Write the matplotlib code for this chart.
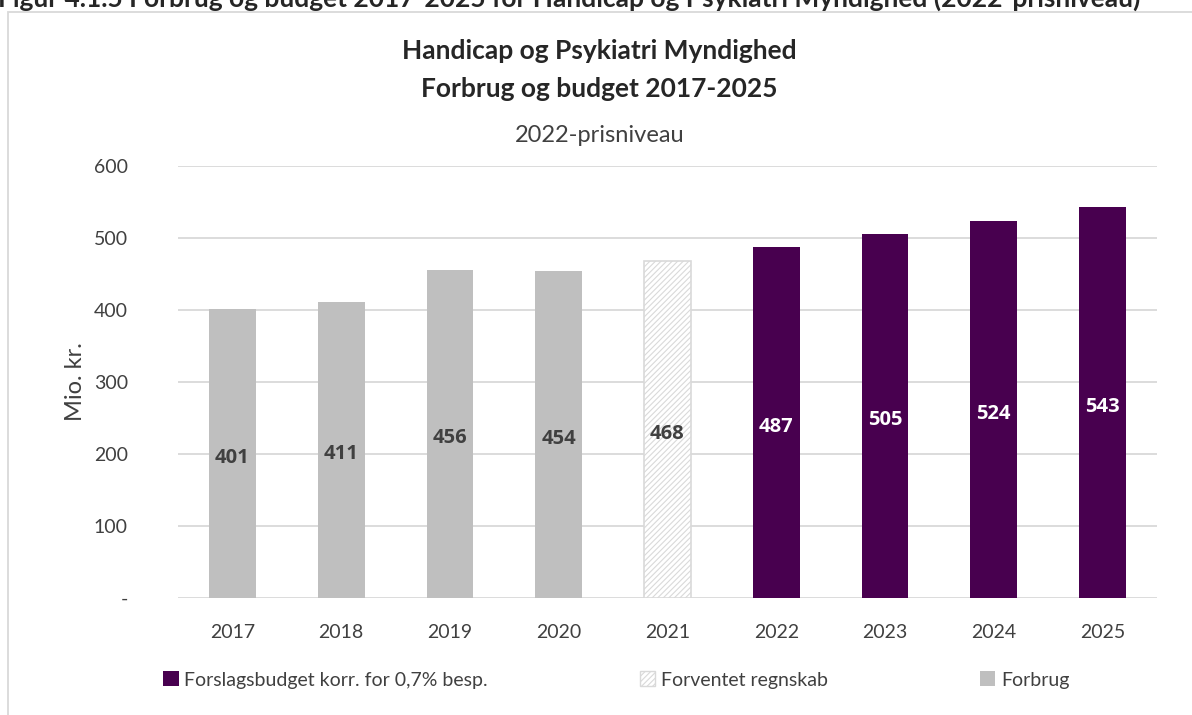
import matplotlib
matplotlib.use("Agg")
import matplotlib.pyplot as plt
from matplotlib.patches import Patch, Rectangle

years = ["2017", "2018", "2019", "2020", "2021", "2022", "2023", "2024", "2025"]
forbrug = [401, 411, 456, 454]
forventet = [468]
budget = [487, 505, 524, 543]
yticks = [0, 100, 200, 300, 400, 500, 600]
ytick_labels = ["-", "100", "200", "300", "400", "500", "600"]

purple = "#48004f"
gray = "#bfbfbf"
txt = "#404040"
plt.rcParams["font.family"] = ["Lato", "DejaVu Sans"]
plt.rcParams["hatch.color"] = "#d0d0d0"
plt.rcParams["hatch.linewidth"] = 0.8

fig = plt.figure(figsize=(11.92, 7.15), dpi=100)
ax = fig.add_axes([0.1493, 0.1636, 0.8213, 0.6042])

x = list(range(len(years)))
w = 0.43
b1 = ax.bar(x[:4], forbrug, w, color=gray, zorder=2)
b2 = ax.bar(x[4:5], forventet, w, color="white", edgecolor="#d9d9d9",
            hatch="//////", linewidth=1.2, zorder=2)
b3 = ax.bar(x[5:], budget, w, color=purple, zorder=2)

for bars, vals, c in [(b1, forbrug, txt), (b2, forventet, txt), (b3, budget, "white")]:
    for r, v in zip(bars, vals):
        ax.annotate(str(v), (r.get_x() + r.get_width() / 2, v / 2), xytext=(0, -3),
                    textcoords="offset points", ha="center", va="center",
                    fontsize=14.5, fontweight="bold", color=c, family="Open Sans")

ax.set_xlim(-0.5, 8.5)
ax.set_ylim(0, 600)
ax.set_xticks(x)
ax.set_xticklabels(years)
ax.set_yticks(yticks)
ax.set_yticklabels(ytick_labels)
ax.tick_params(axis="both", length=0, labelsize=14, colors=txt)
ax.tick_params(axis="x", pad=19)
ax.tick_params(axis="y", pad=36)
ax.grid(axis="y", color="#d9d9d9", linewidth=1.3, zorder=0)
for s in ax.spines.values():
    s.set_visible(False)
ax.set_ylabel("Mio. kr.", fontsize=17, color=txt, labelpad=6)

fig.text(0.503, 0.928, "Handicap og Psykiatri Myndighed", ha="center", va="center",
         fontsize=19, fontweight="bold", color="#262626")
fig.text(0.503, 0.876, "Forbrug og budget 2017-2025", ha="center", va="center",
         fontsize=19, fontweight="bold", color="#262626")
fig.text(0.503, 0.811, "2022-prisniveau", ha="center", va="center",
         fontsize=17, color=txt)

# caption above the frame, cut off by the page like in the source
fig.text(-0.002, 1 - 7 / 715, "Figur 4.1.5 Forbrug og budget 2017-2025 for Handicap og Psykiatri Myndighed (2022-prisniveau)",
         ha="left", va="baseline", fontsize=19, fontweight="bold", color="#262626")
fig.patches.append(Rectangle((8 / 1192, -0.05), 1.2, 1 - 12 / 715 + 0.05,
                             transform=fig.transFigure, fill=False,
                             edgecolor="#d9d9d9", linewidth=1.3))

handles = [Patch(facecolor=purple),
           Patch(facecolor="white", edgecolor="#d9d9d9", hatch="//////"),
           Patch(facecolor=gray)]
labels = ["Forslagsbudget korr. for 0,7% besp.", "Forventet regnskab", "Forbrug"]
fig.legend(handles, labels, ncol=3, loc="center", bbox_to_anchor=(0.517, 0.049),
           frameon=False, fontsize=14, labelcolor=txt, handlelength=0.8,
           handleheight=0.8, handletextpad=0.3, columnspacing=7.8)

fig.savefig("out.png", dpi=100)
